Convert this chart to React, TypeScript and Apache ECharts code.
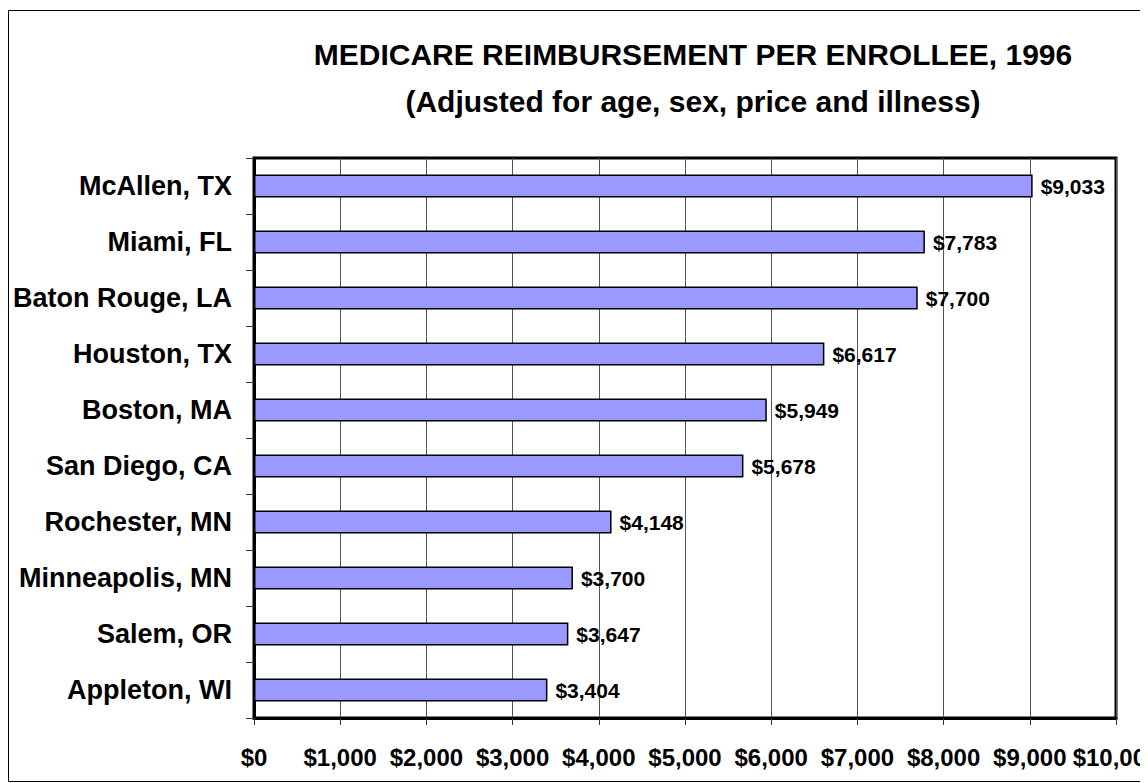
import React, { useEffect, useRef } from "react";
import * as echarts from "echarts";

const cities = [
  "McAllen, TX",
  "Miami, FL",
  "Baton Rouge, LA",
  "Houston, TX",
  "Boston, MA",
  "San Diego, CA",
  "Rochester, MN",
  "Minneapolis, MN",
  "Salem, OR",
  "Appleton, WI",
];
const reimbursement = [9033, 7783, 7700, 6617, 5949, 5678, 4148, 3700, 3647, 3404];
const titleLine1 = "MEDICARE REIMBURSEMENT PER ENROLLEE, 1996";
const titleLine2 = "(Adjusted for age, sex, price and illness)";

const FONT = "'Liberation Sans', Arial, sans-serif";
const fmt = (v: number) => "$" + v.toLocaleString("en-US");

export default function App() {
  const ref = useRef<HTMLDivElement>(null);
  useEffect(() => {
    if (!ref.current) return;
    const chart = echarts.init(ref.current, null, { renderer: "svg" });
    chart.setOption({
      animation: false,
      backgroundColor: "#fff",
      textStyle: { fontFamily: FONT },
      title: [
        {
          text: titleLine1,
          left: 680,
          top: 26,
          textAlign: "center",
          textStyle: { fontFamily: FONT, fontSize: 30, fontWeight: "bold", color: "#000" },
        },
        {
          text: titleLine2,
          left: 680,
          top: 73,
          textAlign: "center",
          textStyle: { fontFamily: FONT, fontSize: 30, fontWeight: "bold", color: "#000" },
        },
      ],
      graphic: [
        {
          type: "rect",
          shape: { x: 0.5, y: 2.5, width: 1200, height: 771 },
          style: { fill: "none", stroke: "#000", lineWidth: 1 },
          silent: true,
        },
      ],
      grid: {
        left: 246,
        top: 150,
        right: 32,
        bottom: 65,
        containLabel: false,
        outerBoundsMode: "none",
        show: true,
        borderColor: "#000",
        borderWidth: 3,
        backgroundColor: "transparent",
      },
      xAxis: {
        type: "value",
        min: 0,
        max: 10000,
        interval: 1000,
        axisLine: { show: true, lineStyle: { color: "#000", width: 3 } },
        axisTick: { show: true, length: 7, lineStyle: { color: "#333", width: 1 } },
        splitLine: { show: true, lineStyle: { color: "#555", width: 1 } },
        axisLabel: {
          margin: 27,
          fontFamily: FONT,
          fontSize: 24,
          fontWeight: "bold",
          color: "#000",
          hideOverlap: false,
          formatter: (v: number) => fmt(v),
        },
      },
      yAxis: {
        type: "category",
        data: cities,
        inverse: true,
        axisLine: { show: true, lineStyle: { color: "#000", width: 3 } },
        axisTick: { show: true, length: 8, lineStyle: { color: "#333", width: 1 } },
        axisLabel: {
          margin: 22,
          fontFamily: FONT,
          fontSize: 27,
          fontWeight: "bold",
          color: "#000",
        },
      },
      series: [
        {
          type: "bar",
          data: reimbursement,
          barWidth: 23,
          itemStyle: { color: "#9999FF", borderColor: "#000", borderWidth: 1.5 },
          label: {
            show: true,
            position: "right",
            distance: 8,
            fontFamily: FONT,
            fontSize: 21,
            fontWeight: "bold",
            color: "#000",
            formatter: (p: any) => fmt(p.value),
          },
        },
      ],
    });
    return () => chart.dispose();
  }, []);
  return <div ref={ref} style={{ width: 1140, height: 775 }} />;
}
